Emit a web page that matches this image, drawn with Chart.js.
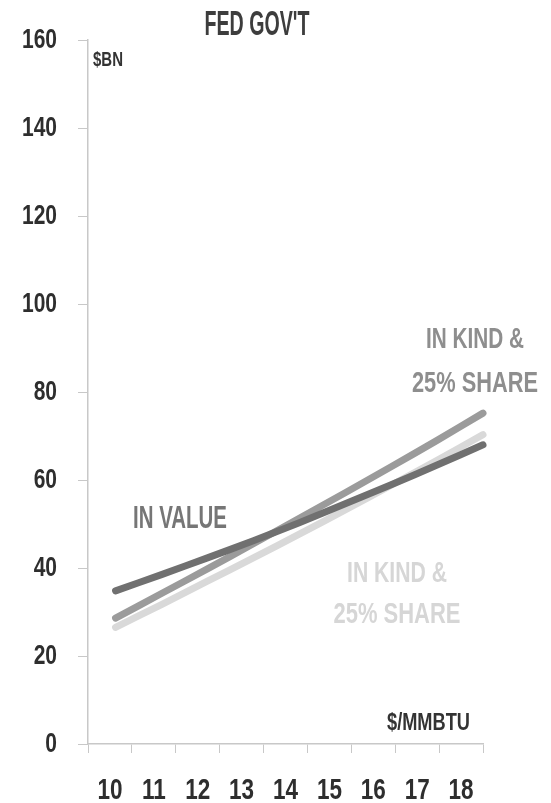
<!DOCTYPE html>
<html>
<head>
<meta charset="utf-8">
<title>FED GOV'T</title>
<script src="https://cdn.jsdelivr.net/npm/chart.js@4.4.1/dist/chart.umd.min.js"></script>
<style>
  html, body { margin: 0; padding: 0; background: #fff; }
  #chart { display: block; }
</style>
</head>
<body>
<canvas id="chart" width="551" height="803"></canvas>
<script>
// gas price, $/MMBTU
const prices = [10, 11, 12, 13, 14, 15, 16, 17, 18];
const priceLabels = ['10', '11', '12', '13', '14', '15', '16', '17', '18'];

// federal take, $BN
const inValue = [34.8, 38.5, 42.3, 46.2, 50.3, 54.6, 58.9, 63.4, 68.0];
const inKindShare = [28.6, 34.2, 39.8, 45.5, 51.3, 57.1, 63.0, 69.0, 75.2];
const inKindShareLight = [26.5, 31.7, 37.0, 42.3, 47.7, 53.2, 58.8, 64.5, 70.3];

const yTicks = [0, 20, 40, 60, 80, 100, 120, 140, 160];

const FONT = '"Liberation Sans", Arial, sans-serif';
const SQUEEZE = 0.75;   // condensed look for the axis numbers

function points(values) {
  return prices.map((p, i) => ({ x: p, y: values[i] }));
}

// free text on the canvas, squeezed to a given width
const notes = [
  { text: "FED GOV'T", x: 257, y: 35, size: 35, width: 105, align: 'center', color: '#3d3d3d' },
  { text: '$BN', x: 93, y: 66, size: 21, width: 30, align: 'left', color: '#333' },
  { text: '$/MMBTU', x: 470, y: 730, size: 23, width: 83, align: 'right', color: '#333' },
  { text: 'IN VALUE', x: 133, y: 528, size: 32, width: 94, align: 'left', color: '#767676' },
  { text: 'IN KIND &', x: 475, y: 348, size: 30, width: 98, align: 'center', color: '#8e8e8e' },
  { text: '25% SHARE', x: 475, y: 392, size: 30, width: 126, align: 'center', color: '#8e8e8e' },
  { text: 'IN KIND &', x: 397, y: 582, size: 30, width: 100, align: 'center', color: '#d6d6d6' },
  { text: '25% SHARE', x: 397, y: 623, size: 30, width: 127, align: 'center', color: '#d6d6d6' }
];

function squeezed(ctx, text, x, y) {
  const w = ctx.measureText(text).width;
  ctx.fillText(text, x, y, w * SQUEEZE);
}

const textPlugin = {
  id: 'text',
  afterDraw(chart) {
    const ctx = chart.ctx;
    const xs = chart.scales.x;
    const ys = chart.scales.y;
    ctx.save();

    // axis numbers, placed by the scales
    ctx.fillStyle = '#2e2e2e';
    ctx.textBaseline = 'middle';
    ctx.font = 'bold 28px ' + FONT;
    ctx.textAlign = 'right';
    yTicks.forEach(v => squeezed(ctx, String(v), ys.left + 57, ys.getPixelForValue(v)));
    ctx.font = 'bold 30px ' + FONT;
    ctx.textAlign = 'center';
    priceLabels.forEach((lbl, i) => squeezed(ctx, lbl, xs.getPixelForValue(i), xs.top + 47));

    ctx.textBaseline = 'alphabetic';
    notes.forEach(n => {
      ctx.font = 'bold ' + n.size + 'px ' + FONT;
      ctx.fillStyle = n.color;
      ctx.textAlign = n.align;
      ctx.fillText(n.text, n.x, n.y, n.width);
    });
    ctx.restore();
  }
};

const lineStyle = {
  borderWidth: 7,
  borderCapStyle: 'round',
  pointRadius: 0,
  tension: 0.3,
  fill: false,
  xAxisID: 'xv',
  clip: false
};

new Chart(document.getElementById('chart'), {
  type: 'line',
  data: {
    labels: priceLabels,
    datasets: [
      Object.assign({ label: 'In value', data: points(inValue), borderColor: '#707070', order: 0 }, lineStyle),
      Object.assign({ label: 'In kind & 25% share', data: points(inKindShare), borderColor: '#9b9b9b', order: 1 }, lineStyle),
      Object.assign({ label: 'In kind & 25% share (alt)', data: points(inKindShareLight), borderColor: '#d9d9d9', order: 2 }, lineStyle)
    ]
  },
  options: {
    responsive: false,
    animation: false,
    layout: { padding: { top: 40, left: 0, right: 68, bottom: 0 } },
    plugins: {
      legend: { display: false },
      tooltip: { enabled: false }
    },
    scales: {
      x: {
        type: 'category',
        offset: true,
        grid: { offset: true, drawOnChartArea: false, tickLength: 9, color: '#c8c8c8' },
        border: { color: '#c8c8c8', width: 1.5 },
        ticks: { display: false, autoSkip: false },
        afterFit(axis) { axis.height = 59; }
      },
      // price axis the lines are plotted on
      xv: {
        type: 'linear',
        display: false,
        min: 9.4,
        max: 18
      },
      y: {
        min: 0,
        max: 160,
        afterBuildTicks(axis) { axis.ticks = yTicks.map(v => ({ value: v })); },
        grid: { drawOnChartArea: false, tickLength: 10, color: '#c8c8c8' },
        border: { color: '#c8c8c8', width: 1.5 },
        ticks: { display: false },
        afterFit(axis) { axis.width = 88; }
      }
    }
  },
  plugins: [textPlugin]
});
</script>
</body>
</html>
